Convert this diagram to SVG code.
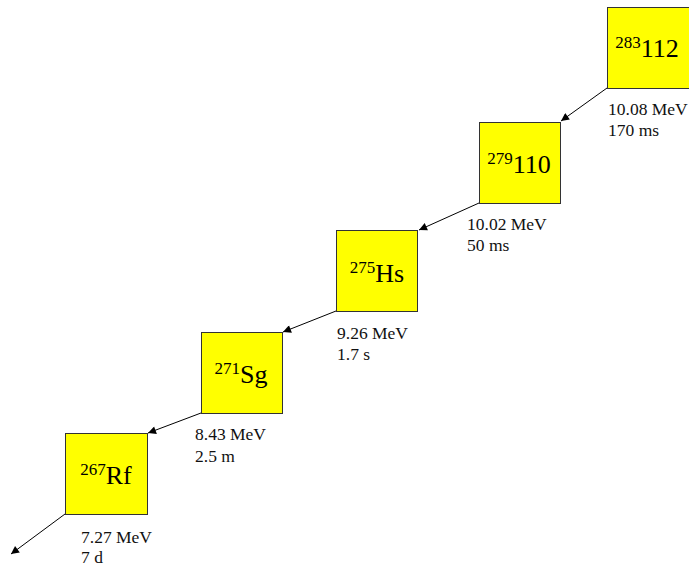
<svg xmlns="http://www.w3.org/2000/svg" width="689" height="566" viewBox="0 0 689 566">
<style>
.box{fill:#ffff00;stroke:#333;stroke-width:1}
text{font-family:'Liberation Serif','Times New Roman','DejaVu Serif',serif}
.lbl{font-size:26px;fill:#000;text-anchor:middle}
.sup{font-size:17px}
.info{font-size:17.5px;fill:#111}
.conn line{stroke:#000;stroke-width:1;marker-end:url(#ah)}
</style>
<defs>
<marker id="ah" viewBox="0 0 10 10" refX="10" refY="5" markerWidth="10" markerHeight="8" markerUnits="userSpaceOnUse" orient="auto">
<path d="M0,0 L10,5 L0,10 z" fill="#000"/>
</marker>
</defs>
<rect width="689" height="566" fill="#fff"/>
<g id="n112">
<rect class="box" x="607.5" y="7.5" width="82" height="81"/>
<text class="lbl" x="647" y="57" font-family="Liberation Serif, serif"><tspan class="sup" dy="-9">283</tspan><tspan dy="9">112</tspan></text>
<text class="info" x="608" y="115" font-family="Liberation Serif, serif">10.08 MeV</text>
<text class="info" x="608" y="136" font-family="Liberation Serif, serif">170 ms</text>
</g>
<g id="n110">
<rect class="box" x="479.5" y="122.5" width="81" height="81"/>
<text class="lbl" x="519" y="173" font-family="Liberation Serif, serif"><tspan class="sup" dy="-9">279</tspan><tspan dy="9">110</tspan></text>
<text class="info" x="467" y="230" font-family="Liberation Serif, serif">10.02 MeV</text>
<text class="info" x="467" y="251" font-family="Liberation Serif, serif">50 ms</text>
</g>
<g id="nHs">
<rect class="box" x="336.5" y="230.5" width="81" height="81"/>
<text class="lbl" x="377" y="282" font-family="Liberation Serif, serif"><tspan class="sup" dy="-9">275</tspan><tspan dy="9">Hs</tspan></text>
<text class="info" x="337" y="339" font-family="Liberation Serif, serif">9.26 MeV</text>
<text class="info" x="337" y="360" font-family="Liberation Serif, serif">1.7 s</text>
</g>
<g id="nSg">
<rect class="box" x="201.5" y="332.5" width="81" height="81"/>
<text class="lbl" x="241" y="383" font-family="Liberation Serif, serif"><tspan class="sup" dy="-9">271</tspan><tspan dy="9">Sg</tspan></text>
<text class="info" x="195" y="440" font-family="Liberation Serif, serif">8.43 MeV</text>
<text class="info" x="195" y="462" font-family="Liberation Serif, serif">2.5 m</text>
</g>
<g id="nRf">
<rect class="box" x="65.5" y="433.5" width="82" height="81"/>
<text class="lbl" x="106" y="484" font-family="Liberation Serif, serif"><tspan class="sup" dy="-9">267</tspan><tspan dy="9">Rf</tspan></text>
<text class="info" x="81" y="543" font-family="Liberation Serif, serif">7.27 MeV</text>
<text class="info" x="81" y="563" font-family="Liberation Serif, serif">7 d</text>
</g>
<g class="conn" id="connectors">
<line x1="607" y1="88" x2="561" y2="121"/>
<line x1="479" y1="203" x2="419" y2="230"/>
<line x1="336" y1="311" x2="283" y2="332"/>
<line x1="201" y1="413" x2="148" y2="433"/>
<line x1="65" y1="514" x2="11" y2="554"/>
</g>
</svg>
